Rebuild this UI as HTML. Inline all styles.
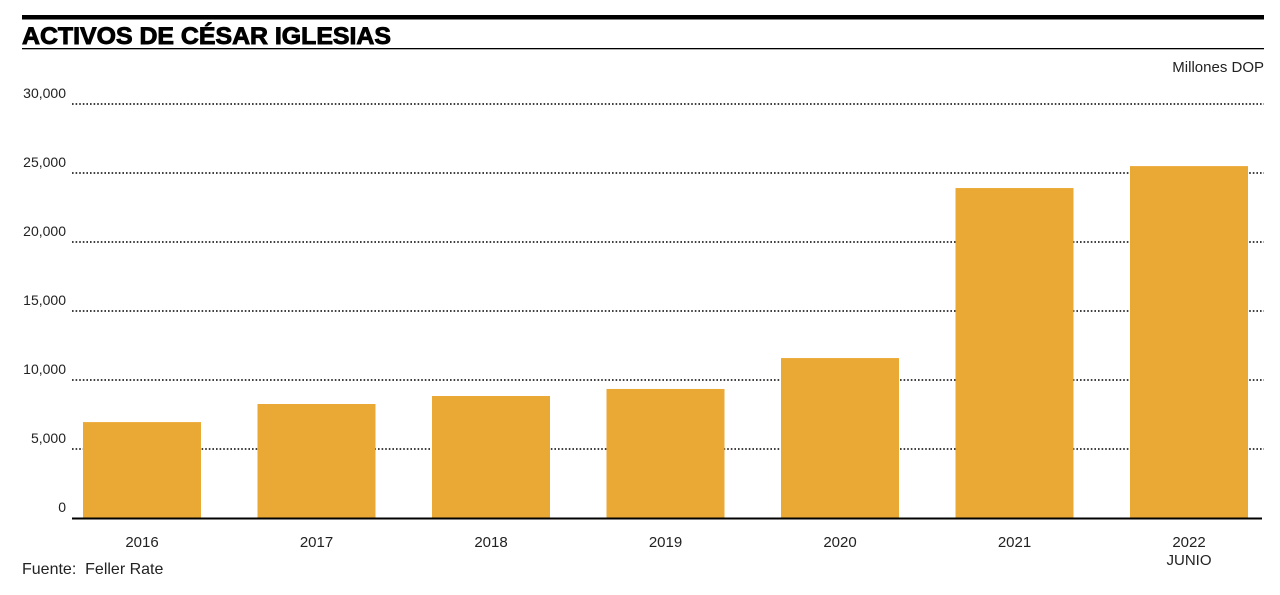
<!DOCTYPE html>
<html><head><meta charset="utf-8"><style>
body{margin:0;background:#fff;width:1280px;height:590px;overflow:hidden;font-family:"Liberation Sans",sans-serif;}
</style></head><body>
<svg width="1280" height="590" xmlns="http://www.w3.org/2000/svg">
<rect x="22" y="15" width="1242" height="4.5" fill="#000"/>
<text x="22" y="44" font-size="24" font-weight="bold" stroke="#000" stroke-width="0.9" textLength="369" lengthAdjust="spacingAndGlyphs" font-family="Liberation Sans, sans-serif">ACTIVOS DE CÉSAR IGLESIAS</text>
<rect x="22" y="48" width="1242" height="1.3" fill="#000"/>
<text x="1264" y="72" font-size="15" text-anchor="end" fill="#222">Millones DOP</text>
<g id="grid"></g><g id="bars"></g><g id="xl"></g>
<line x1="72" x2="1262" y1="518.5" y2="518.5" stroke="#000" stroke-width="2"/>
<text x="22" y="574" font-size="16" fill="#222">Fuente:&#160; Feller Rate</text>
</svg>
<script>
const categories=["2016","2017","2018","2019","2020","2021","2022"];
const values=[6950,8260,8840,9350,11590,23910,25500];
const ticks=[0,5000,10000,15000,20000,25000,30000];
const tickLabels=["0","5,000","10,000","15,000","20,000","25,000","30,000"];
const NS="http://www.w3.org/2000/svg";
const y=v=>518-v*414/30000;
const xc=i=>142+i*174.5;
const g=document.getElementById('grid'),b=document.getElementById('bars'),xl=document.getElementById('xl');
function mk(tag,at,p){const e=document.createElementNS(NS,tag);for(const k in at)e.setAttribute(k,at[k]);p.appendChild(e);return e;}
ticks.forEach((t,i)=>{
 if(t>0){const l=mk('line',{x1:72,x2:1264,y1:y(t),y2:y(t),stroke:'#000','stroke-width':1.6,'stroke-dasharray':'1.6 2'},g);
 
 }
 const tx=mk('text',{x:66,y:y(t)-6,'font-size':14,'text-anchor':'end',fill:'#222'},g);
 tx.textContent=tickLabels[i];
 
 
});
categories.forEach((c,i)=>{
 const r=mk('rect',{x:xc(i)-59,y:y(values[i]),width:118,height:518-y(values[i]),fill:'#eaa835'},b);
 
 
 const t=mk('text',{x:xc(i),y:547,'font-size':15,'text-anchor':'middle',fill:'#222'},xl);
 t.textContent=c;
 
 
});
const j=mk('text',{x:xc(6),y:565,'font-size':15,'text-anchor':'middle',fill:'#222'},xl);
j.textContent="JUNIO";


</script>
</body></html>
